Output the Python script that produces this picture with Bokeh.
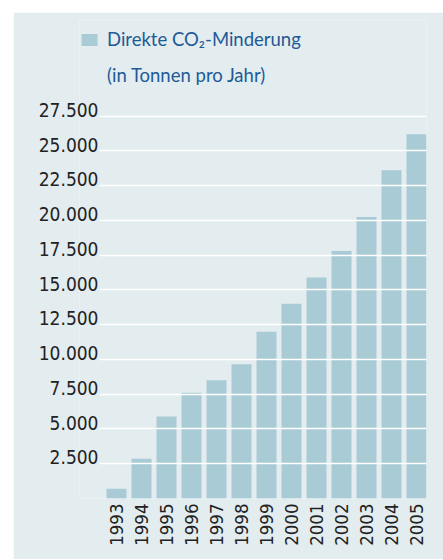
import math
from bokeh.plotting import figure
from bokeh.models import FixedTicker, Legend, LegendItem, Range1d, Spacer
from bokeh.layouts import column, row
from bokeh.embed import file_html
from bokeh.resources import INLINE

# ---- data ----
years = [1993, 1994, 1995, 1996, 1997, 1998, 1999, 2000, 2001, 2002, 2003, 2004, 2005]
values = [700, 2850, 5900, 7600, 8500, 9650, 12000, 14000, 15900, 17800, 20250, 23600, 26200]
y_ticks = [2500, 5000, 7500, 10000, 12500, 15000, 17500, 20000, 22500, 25000, 27500]
y_tick_labels = ["2.500", "5.000", "7.500", "10.000", "12.500", "15.000",
                 "17.500", "20.000", "22.500", "25.000", "27.500"]
year_labels = [str(y) for y in years]
legend_line1 = "Direkte CO\u2082-Minderung"
legend_line2 = "(in Tonnen pro Jahr)"

# ---- style ----
PANEL = "#e3ecef"
BAR = "#a9cbd5"
TEXT_BLUE = "#1d5a97"
TICK_TEXT = "#222222"
LABEL_SHIFT = 450  # place tick labels just above their gridlines

p = figure(width=430, height=547, output_backend="svg", toolbar_location=None,
           x_range=Range1d(1991.52, 2005.4), y_range=Range1d(0, 34378),
           min_border_left=66, min_border_right=17, min_border_top=8, min_border_bottom=61)
p.background_fill_color = PANEL
p.border_fill_color = PANEL
p.outline_line_color = None

bars = p.vbar(x=years, top=values, width=0.8, bottom=0, fill_color=BAR, line_color=None)
dummy = p.vbar(x=years[:1], top=[0], width=0.0, fill_alpha=0, line_alpha=0)

# x axis
p.xaxis.ticker = FixedTicker(ticks=years)
p.xaxis.major_label_overrides = {y: l for y, l in zip(years, year_labels)}
p.xaxis.major_label_orientation = math.pi / 2
p.xaxis.axis_line_color = None
p.xaxis.major_tick_line_color = None
p.xaxis.minor_tick_line_color = None
p.xaxis.major_tick_out = 0
p.xaxis.major_tick_in = 0
p.xaxis.major_label_standoff = 5
p.xaxis.major_label_text_font = "DejaVu Sans Condensed"
p.xaxis.major_label_text_font_size = "18.5px"
p.xaxis.major_label_text_color = TICK_TEXT
p.xgrid.visible = False

# y axis
p.yaxis.ticker = FixedTicker(ticks=[t + LABEL_SHIFT for t in y_ticks])
p.yaxis.major_label_overrides = {t + LABEL_SHIFT: l for t, l in zip(y_ticks, y_tick_labels)}
p.yaxis.axis_line_color = None
p.yaxis.major_tick_line_color = None
p.yaxis.minor_tick_line_color = None
p.yaxis.major_tick_out = 0
p.yaxis.major_tick_in = 0
p.yaxis.major_label_standoff = -19
p.yaxis.major_label_text_font = "DejaVu Sans Condensed"
p.yaxis.major_label_text_font_size = "19px"
p.yaxis.major_label_text_color = TICK_TEXT

p.ygrid.ticker = FixedTicker(ticks=y_ticks)
p.ygrid.cross_bounds = (1992.32, 2005.4)
p.ygrid.grid_line_color = "white"
p.ygrid.grid_line_width = 1.3
p.ygrid.level = "overlay"

legend = Legend(items=[LegendItem(label=legend_line1, renderers=[bars]),
                       LegendItem(label=legend_line2, renderers=[dummy])],
                location=(0, 410.8), orientation="vertical",
                padding=0, margin=0, spacing=12,
                glyph_width=20, glyph_height=15, label_height=24, label_standoff=8,
                border_line_alpha=0, background_fill_alpha=0,
                label_text_font="Lato", label_text_font_size="18.5px",
                label_text_color=TEXT_BLUE)
p.add_layout(legend)

layout = column(Spacer(width=443, height=12), row(Spacer(width=13, height=547), p))

open("out.html", "w").write(file_html(layout, INLINE))
